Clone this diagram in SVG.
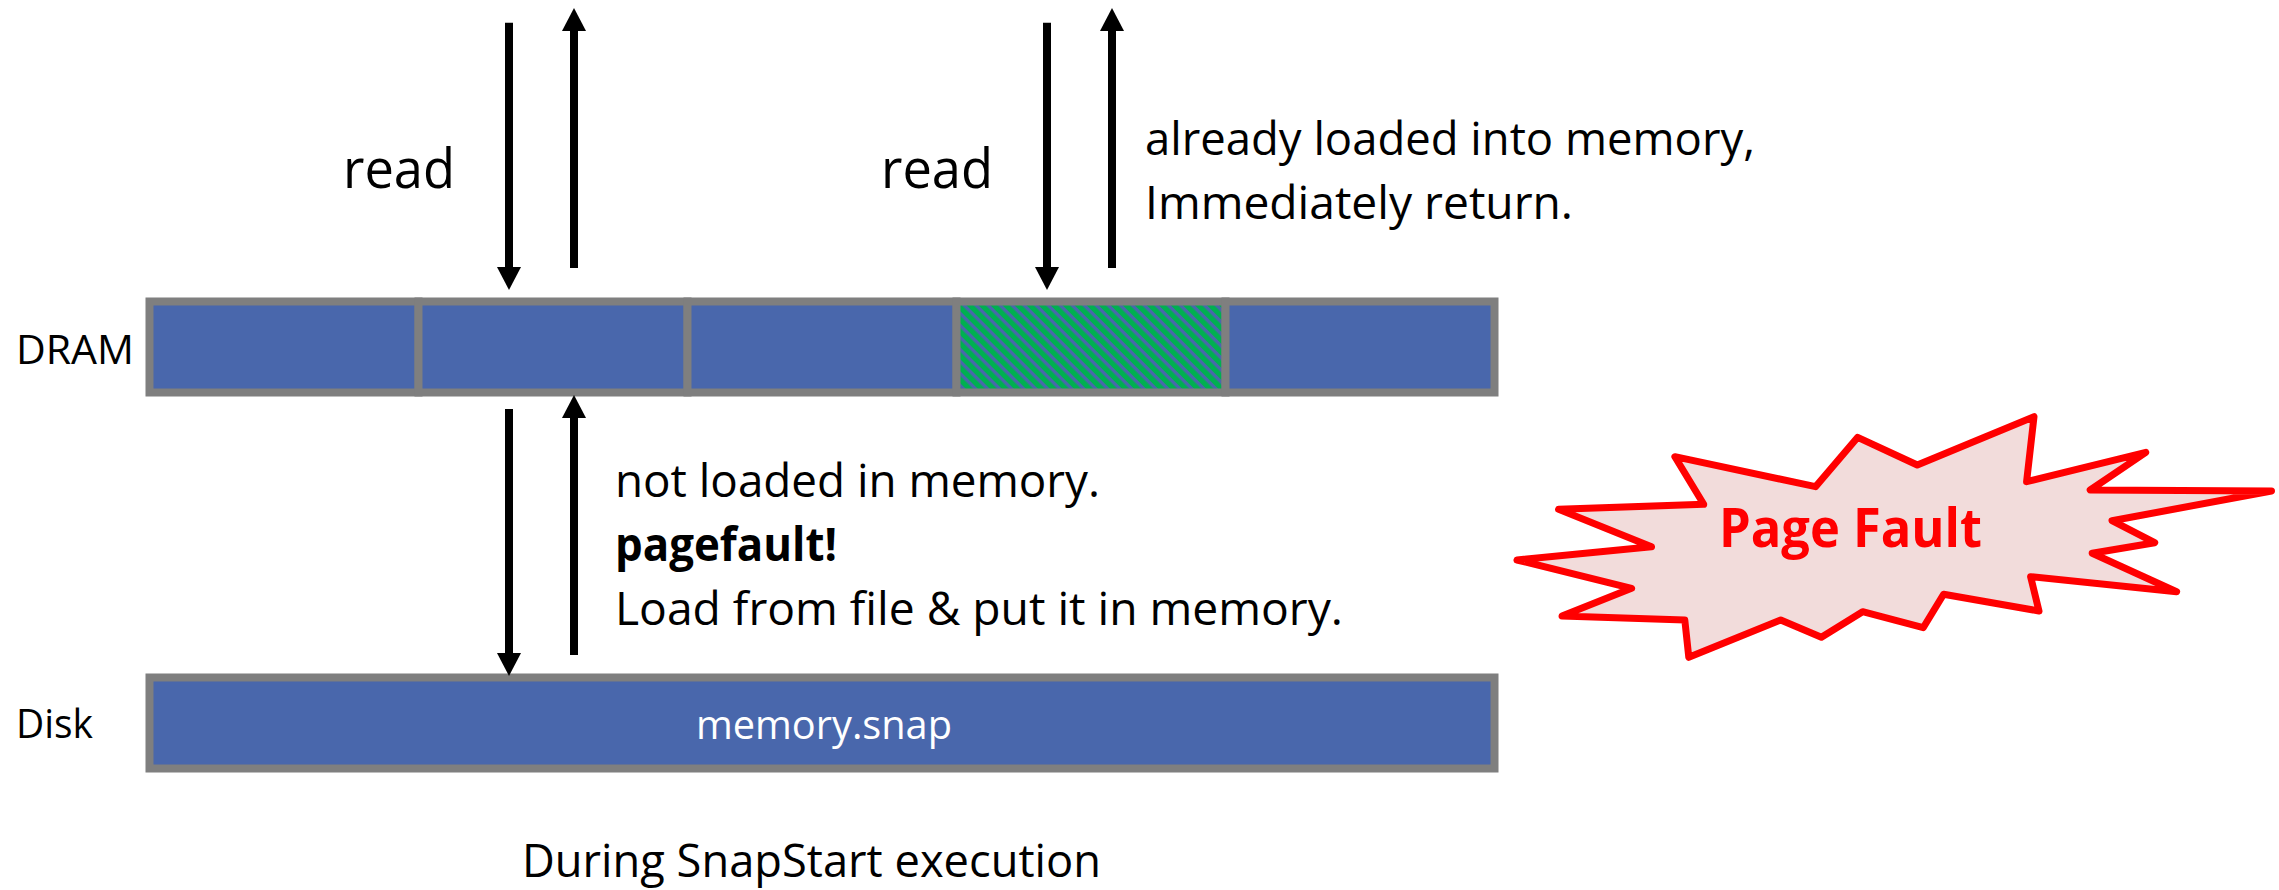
<svg xmlns="http://www.w3.org/2000/svg" width="2279" height="890" viewBox="0 0 2279 890">
  <style>
    text { font-family: "Open Sans", "Noto Sans", "Liberation Sans", sans-serif; fill: #000; }
    .cell { fill: #4967AC; stroke: #7F7F7F; stroke-width: 8; }
    .lbl { font-size: 40px; }
    .big { font-size: 54px; }
    .note { font-size: 46px; }
    .bold { font-weight: bold; }
    .wire { fill: none; stroke: #000; stroke-width: 8; stroke-linecap: butt; }
    .burst { fill: #F2DCDB; stroke: #FF0000; stroke-width: 7; stroke-linejoin: round; }
  </style>
  <defs>
    <!-- diagonal green/blue hatch for the cached page -->
    <pattern id="hatch" patternUnits="userSpaceOnUse" width="8.5" height="8.5" patternTransform="rotate(-45)">
      <rect width="8.5" height="8.5" fill="#4967AC"/>
      <rect width="5.2" height="8.5" fill="#00B050"/>
    </pattern>
    <marker id="head" markerUnits="userSpaceOnUse" markerWidth="23" markerHeight="24" viewBox="0 0 23 24" refX="0.5" refY="12" orient="auto">
      <path d="M0,0 L23,12 L0,24 Z" fill="#000"/>
    </marker>
  </defs>

  <!-- side labels -->
  <g id="label-dram"><text class="lbl" x="16" y="364" textLength="118" lengthAdjust="spacingAndGlyphs">DRAM</text></g>
  <g id="label-disk"><text class="lbl" x="16" y="738" textLength="77" lengthAdjust="spacingAndGlyphs">Disk</text></g>

  <!-- DRAM: five pages -->
  <g id="dram">
    <rect class="cell" x="149.5" y="301.5" width="269" height="91"/>
    <rect class="cell" x="418.5" y="301.5" width="269" height="91"/>
    <rect class="cell" x="687.5" y="301.5" width="269" height="91"/>
    <rect class="cell" x="956.5" y="301.5" width="269" height="91" style="fill:url(#hatch)"/>
    <rect class="cell" x="1225.5" y="301.5" width="269" height="91"/>
  </g>

  <!-- Disk: snapshot file -->
  <g id="disk">
    <rect class="cell" x="149.5" y="677.5" width="1345" height="91"/>
    <text x="824" y="739" font-size="40" text-anchor="middle" textLength="256" lengthAdjust="spacingAndGlyphs" style="fill:#fff">memory.snap</text>
  </g>

  <!-- read requests and responses -->
  <g id="connectors">
    <path class="wire" d="M509,22.7 V267.5" marker-end="url(#head)"/>
    <path class="wire" d="M574,268 V30.5" marker-end="url(#head)"/>
    <path class="wire" d="M1047,22.7 V267.5" marker-end="url(#head)"/>
    <path class="wire" d="M1112,268 V30.5" marker-end="url(#head)"/>
    <path class="wire" d="M509,409 V653.5" marker-end="url(#head)"/>
    <path class="wire" d="M574,655 V417.5" marker-end="url(#head)"/>
  </g>

  <g id="read-labels">
    <text class="big" x="343" y="188" textLength="112" lengthAdjust="spacingAndGlyphs">read</text>
    <text class="big" x="881" y="188" textLength="112" lengthAdjust="spacingAndGlyphs">read</text>
  </g>

  <g id="hit-note">
    <text class="note" x="1145" y="155" textLength="610" lengthAdjust="spacingAndGlyphs">already loaded into memory,</text>
    <text class="note" x="1145" y="219" textLength="428" lengthAdjust="spacingAndGlyphs">Immediately return.</text>
  </g>

  <g id="miss-note">
    <text class="note" x="615" y="497" textLength="485" lengthAdjust="spacingAndGlyphs">not loaded in memory.</text>
    <text class="note bold" x="615" y="561" textLength="222" lengthAdjust="spacingAndGlyphs">pagefault!</text>
    <text class="note" x="615" y="625" textLength="728" lengthAdjust="spacingAndGlyphs">Load from file &amp; put it in memory.</text>
  </g>

  <!-- explosion callout -->
  <g id="page-fault">
    <polygon class="burst" points="1517,560 1651.5,546.7 1558.6,509.3 1703.7,504.3 1674.9,456.7 1815.5,486.7 1857.7,437.3 1917.3,465 2034,416.7 2026.6,481.7 2145.8,452.3 2090.2,490 2271.5,491 2112,520.7 2154.7,542.7 2092.2,553.3 2176.6,591.7 2030.6,576.7 2039,611 1943.6,594.3 1923.2,627.7 1862.6,611.7 1821.4,637.3 1780.7,620 1688.8,657.3 1684.8,620 1562,616 1631.6,588.3"/>
    <text x="1719" y="547" font-size="53" font-weight="bold" textLength="263" lengthAdjust="spacingAndGlyphs" style="fill:#FF0000">Page Fault</text>
  </g>

  <g id="caption">
    <text class="note" x="522" y="877" textLength="579" lengthAdjust="spacingAndGlyphs">During SnapStart execution</text>
  </g>
</svg>
